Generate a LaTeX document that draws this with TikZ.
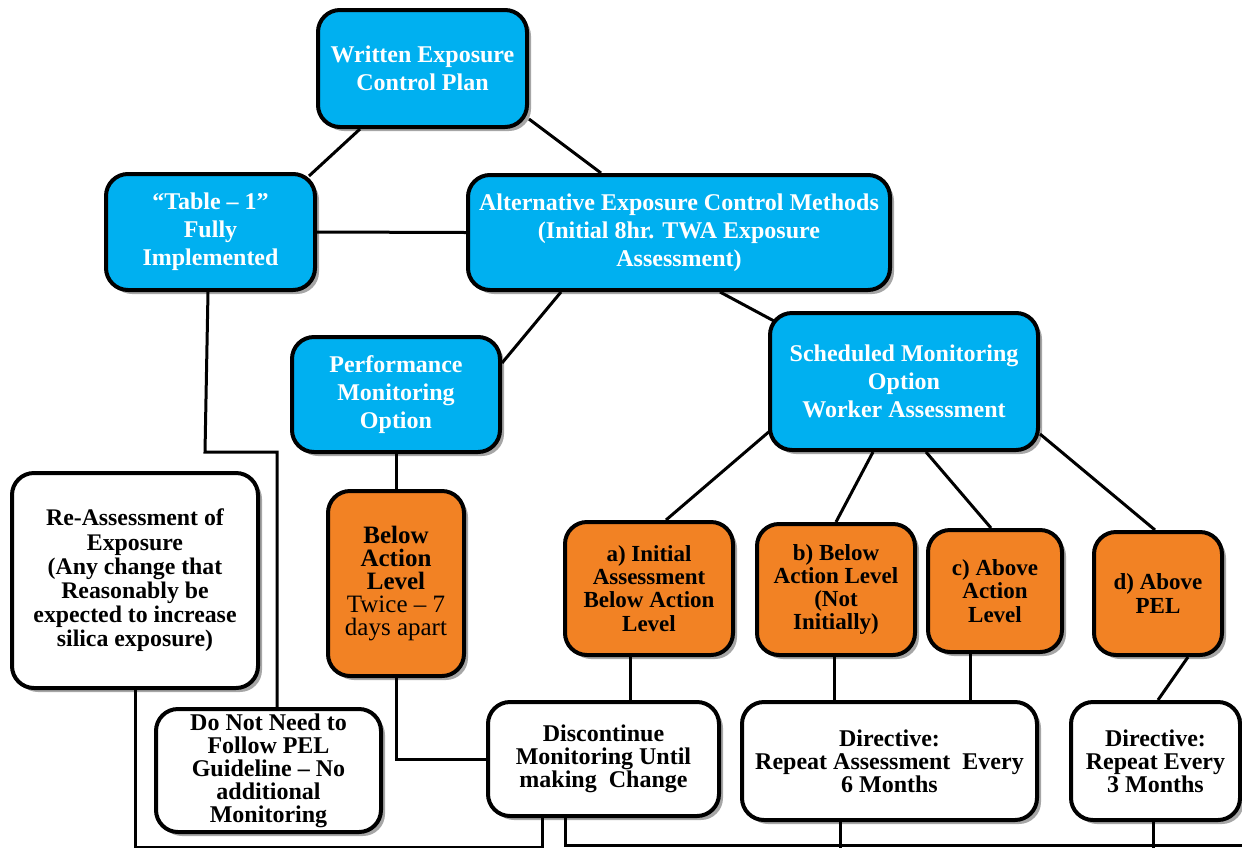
\documentclass[tikz,border=0pt]{standalone}
\usepackage{fontspec}
\setmainfont{Liberation Serif}
\usetikzlibrary{calc,shadows,backgrounds}
\definecolor{skyc}{HTML}{00B0F0}
\definecolor{orangec}{HTML}{F28224}
\tikzset{
  basebox/.style={rounded corners=11pt, line width=2pt, draw=black, align=center, inner sep=2pt,
    drop shadow={shadow xshift=2pt, shadow yshift=-2pt, opacity=0.35, fill=black}},
  bluebox/.style={basebox, fill=skyc, text=white, font=\bfseries\fontsize{12}{14}\selectfont},
  orangebox/.style={basebox, fill=orangec, text=black, font=\bfseries\fontsize{11.5}{11.6}\selectfont},
  whitebox/.style={basebox, fill=white, text=black, font=\bfseries\fontsize{12}{11.5}\selectfont},
  conn/.style={line width=1.5pt, draw=black}
}
\begin{document}
\begin{tikzpicture}[x=0.5pt, y=-0.5pt]
\useasboundingbox (0,0) rectangle (1242,847);
% nodes
\node[bluebox, minimum width=104.5pt, minimum height=58.5pt] (W) at (422.5,68.5) {Written Exposure\\Control Plan};
\node[bluebox, minimum width=104.5pt, minimum height=58pt] (T) at (210.5,232) {“Table – 1”\\Fully\\Implemented};
\node[bluebox, minimum width=211pt, minimum height=57.5pt] (A) at (679,232.5) {Alternative Exposure Control Methods\\(Initial 8hr. TWA Exposure\\Assessment)};
\node[bluebox, minimum width=104pt, minimum height=57.5pt] (P) at (396,394.5) {Performance\\Monitoring\\Option};
\node[bluebox, minimum width=134pt, minimum height=68.5pt] (S) at (904,381.5) {Scheduled Monitoring\\Option\\Worker Assessment};
\node[whitebox, font=\bfseries\fontsize{11.9}{12.1}\selectfont, minimum width=123pt, minimum height=107.5pt] (R) at (135,580.5) {Re-Assessment of\\Exposure\\(Any change that\\Reasonably be\\expected to increase\\silica exposure)};
\node[orangebox, font=\fontsize{12.5}{11.6}\selectfont, minimum width=68pt, minimum height=92.5pt] (B) at (396,583.5) {\bfseries Below\\\bfseries Action\\\bfseries Level\\Twice – 7\\days apart};
\node[orangebox, minimum width=84pt, minimum height=66.5pt] (a) at (649,588.5) {a) Initial\\Assessment\\Below Action\\Level};
\node[orangebox, minimum width=79pt, minimum height=65.5pt] (b) at (836,589.5) {b) Below\\Action Level\\(Not\\Initially)};
\node[orangebox, minimum width=67pt, minimum height=61pt] (c) at (995,591) {c) Above\\Action\\Level};
\node[orangebox, minimum width=64pt, minimum height=61.5pt] (d) at (1158,593.5) {d) Above\\PEL};
\node[whitebox, minimum width=112.5pt, minimum height=61.5pt] (N) at (268.5,770.5) {Do Not Need to\\Follow PEL\\Guideline – No\\additional\\Monitoring};
\node[whitebox, minimum width=115.5pt, minimum height=57pt] (D) at (603.5,759) {Discontinue\\Monitoring Until\\making\ \ Change};
\node[whitebox, minimum width=147.5pt, minimum height=59pt] (E) at (889.5,761) {Directive:\\Repeat Assessment\ \ Every\\6 Months};
\node[whitebox, minimum width=84.5pt, minimum height=59pt] (F) at (1155.5,761) {Directive:\\Repeat Every\\3 Months};
% connectors
\begin{scope}[on background layer]
\draw[conn] ($(W.south west)+(44,0)$) -- ($(T.north east)+(-8,4)$);
\draw[conn] ($(W.south east)+(0,-10)$) -- ($(A.north west)+(135,0)$);
\draw[conn] (T.east) -- (A.west);
\draw[conn] ($(T.south west)+(104,0)$) -- ++(-3,160) -| ($(N.north west)+(123,0)$);
\draw[conn] ($(A.south west)+(95,0)$) -- ($(P.north east)+(0,28)$);
\draw[conn] ($(A.south west)+(254,0)$) -- ($(S.north west)+(6,10)$);
\draw[conn] (P.south) -- (B.north);
\draw[conn] (B.south) |- (D.west);
\draw[conn] ($(S.south west)+(3,-22)$) -- ($(a.north west)+(103,0)$);
\draw[conn] ($(S.south west)+(105,0)$) -- ($(b.north west)+(81,0)$);
\draw[conn] ($(S.south west)+(158,0)$) -- ($(c.north west)+(65,0)$);
\draw[conn] ($(S.south east)+(0,-18)$) -- ($(d.north west)+(63,0)$);
\draw[conn] ($(a.south west)+(67,0)$) -- ($(D.north west)+(144,0)$);
\draw[conn] ($(b.south west)+(79,0)$) -- ($(E.north west)+(94,0)$);
\draw[conn] ($(c.south west)+(44,0)$) -- ($(E.north west)+(230,0)$);
\draw[conn] ($(d.south west)+(96,0)$) -- ($(F.north west)+(89,0)$);
\draw[conn] (R.south) |- ($(D.south west)+(56,29)$) -- ($(D.south west)+(56,0)$);
\coordinate (rightend) at (1242,845);
\draw[conn] ($(D.south west)+(79,0)$) |- (rightend);
\draw[conn] ($(E.south west)+(100,0)$) -- ($(E.south west)+(100,27)$);
\draw[conn] ($(F.south west)+(84,0)$) -- ($(F.south west)+(84,27)$);
\end{scope}
\end{tikzpicture}
\end{document}
